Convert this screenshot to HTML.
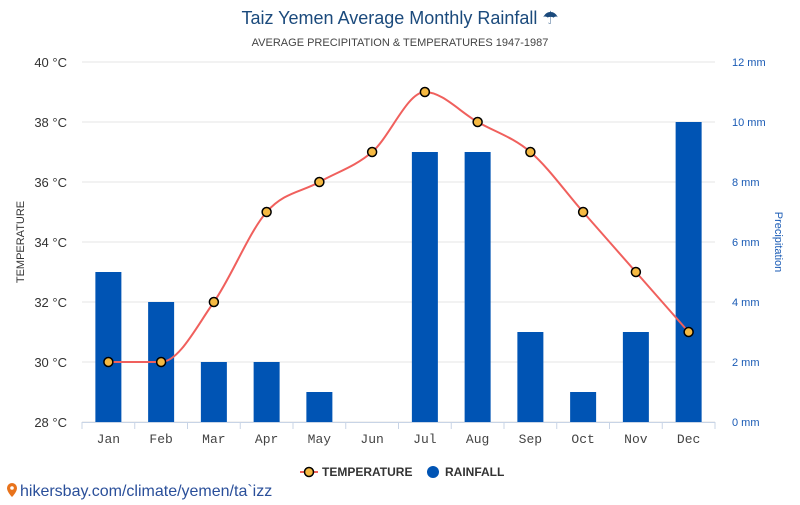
<!DOCTYPE html>
<html><head><meta charset="utf-8"><style>
body{margin:0;background:#fff;width:800px;height:500px;overflow:hidden;font-family:"Liberation Sans",sans-serif}
</style></head><body>
<svg id="chart" width="800" height="500" xmlns="http://www.w3.org/2000/svg" font-family="Liberation Sans, sans-serif">
<text x="400" y="24" text-anchor="middle" font-size="18" fill="#1b4a7c">Taiz Yemen Average Monthly Rainfall ☂</text>
<text x="400" y="46" text-anchor="middle" font-size="11" fill="#444">AVERAGE PRECIPITATION &amp; TEMPERATURES 1947-1987</text>
<g id="grid"></g><g id="bars"></g><g id="line"></g><g id="axes"></g>
<text transform="translate(24,242) rotate(-90)" text-anchor="middle" font-size="11" fill="#333">TEMPERATURE</text>
<text transform="translate(775,242) rotate(90)" text-anchor="middle" font-size="11" fill="#1a5bb5">Precipitation</text>
<g>
<line x1="300" y1="472" x2="318" y2="472" stroke="#f0605d" stroke-width="2"/>
<circle cx="309" cy="472" r="4.5" fill="#f5b942" stroke="#000" stroke-width="1.5"/>
<text x="322" y="476" font-size="12" font-weight="bold" fill="#333">TEMPERATURE</text></g>
<g>
<circle cx="433" cy="472" r="6" fill="#0054b4"/>
<text x="445" y="476" font-size="12" font-weight="bold" fill="#333">RAINFALL</text></g>
<g>
<path d="M12 483 a5 5 0 0 1 5 5 c0 4 -5 9 -5 9 c0 0 -5 -5 -5 -9 a5 5 0 0 1 5 -5z" fill="#e8731c"/>
<circle cx="12" cy="488" r="1.8" fill="#fff"/>
<text x="20" y="496" font-size="16" fill="#2a4f9a">hikersbay.com/climate/yemen/ta`izz</text></g>
</svg>
<script>
const months=["Jan","Feb","Mar","Apr","May","Jun","Jul","Aug","Sep","Oct","Nov","Dec"];
const temps=[30,30,32,35,36,37,39,38,37,35,33,31];
const rain=[5,4,2,2,1,0,9,9,3,1,3,10];
const tempTicks=[28,30,32,34,36,38,40];
const rainTicks=[0,2,4,6,8,10,12];
const NS="http://www.w3.org/2000/svg";
const L=82,R=715,T=62,B=422,bw=(R-L)/12;
const xc=i=>L+bw*(i+0.5);
const yT=v=>B-(v-28)/12*(B-T);
const yR=v=>B-v/12*(B-T);
function mk(tag,attrs,parent,txt){const e=document.createElementNS(NS,tag);for(const k in attrs)e.setAttribute(k,attrs[k]);if(txt!==undefined)e.textContent=txt;document.getElementById(parent).appendChild(e);return e;}
tempTicks.forEach((t,i)=>{
 const g=mk('line',{x1:L,x2:R,y1:yT(t),y2:yT(t),stroke:'#e6e6e6','stroke-width':1},'grid');
 
 
 const a=mk('text',{x:67,y:yT(t)+5,'text-anchor':'end','font-size':13,fill:'#333'},'axes',t+' °C');
 
 
});
rainTicks.forEach(r=>{
 const a=mk('text',{x:732,y:yR(r)+4,'font-size':11,fill:'#1a5bb5'},'axes',r+' mm');
 
 
});
mk('line',{x1:L,x2:R,y1:B+0.5,y2:B+0.5,stroke:'#c8d4e6'},'axes');
for(let i=0;i<=12;i++)mk('line',{x1:L+bw*i,x2:L+bw*i,y1:B,y2:B+7,stroke:'#c8d4e6'},'axes');
months.forEach((m,i)=>{
 const t=mk('text',{x:xc(i),y:443,'text-anchor':'middle','font-size':13,fill:'#444','font-family':'Liberation Mono, monospace'},'axes',m);
 
 
 const b=mk('rect',{x:xc(i)-13,y:yR(rain[i]),width:26,height:B-yR(rain[i]),fill:'#0054b4'},'bars');
 
 
});
const pts=temps.map((t,i)=>[xc(i),yT(t)]);
// monotone cubic (Fritsch-Carlson)
const n=pts.length,dx=[],sl=[],m=[];
for(let i=0;i<n-1;i++){dx[i]=pts[i+1][0]-pts[i][0];sl[i]=(pts[i+1][1]-pts[i][1])/dx[i];}
m[0]=sl[0];m[n-1]=sl[n-2];
for(let i=1;i<n-1;i++){m[i]=(sl[i-1]*sl[i]<=0)?0:(sl[i-1]+sl[i])/2;}
for(let i=0;i<n-1;i++){
 if(sl[i]===0){m[i]=0;m[i+1]=0;continue;}
 const a=m[i]/sl[i],b=m[i+1]/sl[i],h=a*a+b*b;
 if(h>9){const t=3/Math.sqrt(h);m[i]=t*a*sl[i];m[i+1]=t*b*sl[i];}
}
let d='M'+pts[0][0]+','+pts[0][1];
for(let i=0;i<n-1;i++){
 const h=dx[i]/3;
 d+=` C${pts[i][0]+h},${pts[i][1]+m[i]*h} ${pts[i+1][0]-h},${pts[i+1][1]-m[i+1]*h} ${pts[i+1][0]},${pts[i+1][1]}`;
}
const ln=mk('path',{d:d,fill:'none',stroke:'#f0605d','stroke-width':2},'line');


pts.forEach((p,i)=>{
 const c=mk('circle',{cx:p[0],cy:p[1],r:4.5,fill:'#f5b942',stroke:'#000','stroke-width':1.5},'line');
 
 
});
</script>
</body></html>
